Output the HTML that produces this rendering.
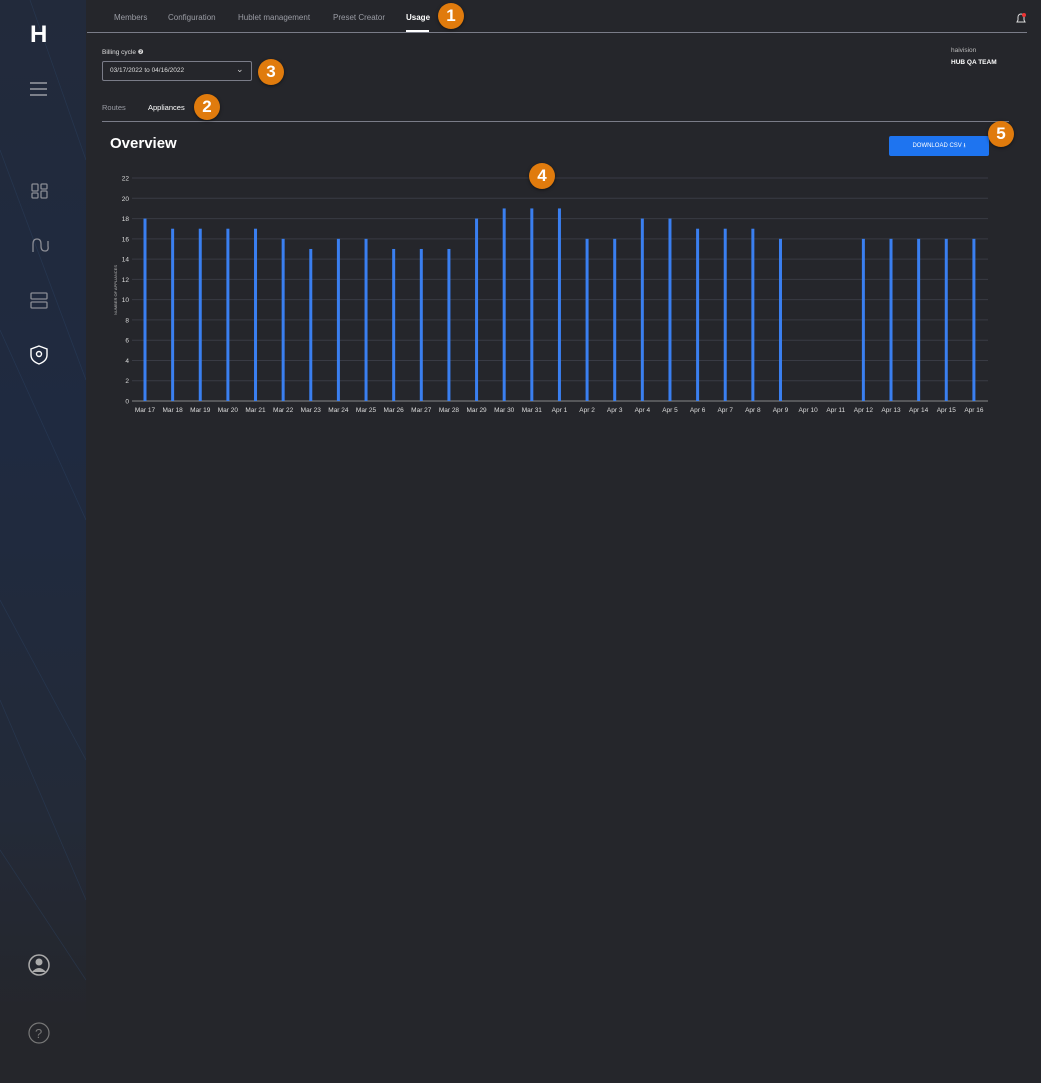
<!DOCTYPE html>
<html><head><meta charset="utf-8"><style>
*{margin:0;padding:0;box-sizing:border-box}
body{width:1041px;height:1083px;background:#25262b;font-family:"Liberation Sans",sans-serif;position:relative;overflow:hidden;color:#fff}
.side{position:absolute;left:0;top:0;width:86px;height:1083px;background:linear-gradient(180deg,#222a3b 0%,#1f2a40 40%,#232a38 75%,#25262b 95%)}
.t{position:absolute;white-space:nowrap}
.badge{position:absolute;z-index:5;width:26px;height:26px;border-radius:50%;background:#e07b0d;color:#fff;font-weight:bold;font-size:17px;text-align:center;line-height:26px;box-shadow:0 1px 3px rgba(0,0,0,.5)}
.nav{font-size:8px;color:#9a9ca4;top:13px}
</style></head><body>
<div class="side">
<svg width="86" height="1083" style="position:absolute;left:0;top:0" fill="none">
<g stroke="#2f4a6e" stroke-width="0.7" opacity="0.4">
<path d="M30 0 L86 160"/><path d="M0 150 L86 380"/><path d="M0 330 L86 520"/><path d="M0 600 L86 760"/><path d="M0 700 L86 900"/><path d="M0 850 L86 980"/>
</g>
<text x="30" y="42" fill="#fff" font-size="24" font-weight="bold" font-family="Liberation Sans">H</text>
<g stroke="#9a9ca4" stroke-width="1.6"><path d="M30 83h17M30 89h17M30 95h17"/></g>
<g stroke="#8a8c94" stroke-width="1.3">
<rect x="32" y="184" width="6" height="7" rx="1"/><rect x="41" y="184" width="6" height="5" rx="1"/><rect x="32" y="193" width="6" height="5" rx="1"/><rect x="41" y="191" width="6" height="7" rx="1"/>
<path d="M33 252 v-8 q0-5 4-5 t4 5 v2 q0 5 4 5 t3-5 v-5"/>
<rect x="31" y="293" width="16" height="6" rx="1"/><rect x="31" y="302" width="16" height="6" rx="1"/>
</g>
<g stroke="#fff" stroke-width="1.4"><path d="M39 346 l8 3 v6 q0 6 -8 9 q-8 -3 -8 -9 v-6z"/><circle cx="39" cy="354" r="2.5"/></g>
<circle cx="39" cy="965" r="10" stroke="#aaa" stroke-width="1.5"/><circle cx="39" cy="962" r="3.5" fill="#aaa"/><path d="M32 972 q7-8 14 0" fill="#aaa"/>
<circle cx="39" cy="1033" r="10" stroke="#777" stroke-width="1.2"/><text x="35" y="1038" fill="#777" font-size="13" font-family="Liberation Sans">?</text>
</svg>
</div>
<div class="t nav" style="left:114px">Members</div>
<div class="t nav" style="left:168px">Configuration</div>
<div class="t nav" style="left:238px">Hublet management</div>
<div class="t nav" style="left:333px">Preset Creator</div>
<div class="t nav" style="left:406px;color:#fff;font-weight:bold">Usage</div>
<div style="position:absolute;left:406px;top:30px;width:23px;height:2px;background:#fff"></div>
<div style="position:absolute;left:87px;top:32px;width:940px;height:1px;background:#7a7c88"></div>
<div class="badge" style="left:438px;top:3px">1</div>
<svg style="position:absolute;left:1014px;top:12px" width="14" height="14"><path d="M3 10 h8 l-1-2 v-3 a3 3 0 0 0 -6 0 v3z" stroke="#ddd" fill="none"/><circle cx="10" cy="3" r="2" fill="#e33"/></svg>
<div class="t" style="left:102px;top:48px;font-size:6.5px;color:#ddd">Billing cycle ❷</div>
<div style="position:absolute;left:102px;top:61px;width:150px;height:20px;border:1px solid #7a7c88;border-radius:2px"></div>
<div class="t" style="left:110px;top:67px;font-size:6.5px;color:#ddd">03/17/2022 to 04/16/2022</div>
<div class="t" style="left:236px;top:64px;font-size:9px;color:#ccc">⌄</div>
<div class="badge" style="left:258px;top:59px">3</div>
<div class="t" style="left:951px;top:47px;font-size:6.5px;color:#bbb">haivision</div>
<div class="t" style="left:951px;top:59px;font-size:6.5px;color:#fff;font-weight:bold">HUB QA TEAM</div>
<div class="t" style="left:102px;top:103px;font-size:7.5px;color:#9a9ca4">Routes</div>
<div class="t" style="left:148px;top:103px;font-size:7.5px;color:#fff">Appliances</div>
<div class="badge" style="left:194px;top:94px">2</div>
<div style="position:absolute;left:102px;top:121px;width:907px;height:1px;background:#7a7c88"></div>
<div class="t" style="left:110px;top:135px;font-size:15px;font-weight:bold;color:#fff">Overview</div>
<div style="position:absolute;left:889px;top:136px;width:100px;height:20px;background:#1e74f0;border-radius:2px;font-size:6px;color:#fff;text-align:center;line-height:20px">DOWNLOAD CSV ⭳</div>
<div class="badge" style="left:988px;top:121px">5</div>
<svg style="position:absolute;left:0;top:0" width="1041" height="420" font-family="Liberation Sans" font-size="6.5" fill="#ddd">
<g id="g"></g>
<text transform="translate(117,290) rotate(-90)" text-anchor="middle" font-size="4" fill="#bbb">NUMBER OF APPLIANCES</text>
</svg>
<div class="badge" style="left:529px;top:163px">4</div>
<script>
var g=document.getElementById('g'),s='';
for(var i=0;i<=11;i++){var y=401-i*20.27;s+='<line x1="132" x2="988" y1="'+y+'" y2="'+y+'" stroke="'+(i==0?'#888':'#393b44')+'" stroke-width="1"/><text x="129" y="'+(y+2.5)+'" text-anchor="end">'+(i*2)+'</text>';}
var v=[18,17,17,17,17,16,15,16,16,15,15,15,18,19,19,19,16,16,18,18,17,17,17,16,0,0,16,16,16,16,16];
for(var i=0;i<31;i++){var x=145+i*27.63;var lab=i<15?'Mar '+(17+i):'Apr '+(i-14);
if(v[i])s+='<rect x="'+(x-1.5)+'" y="'+(401-v[i]*10.135)+'" width="3" height="'+(v[i]*10.135)+'" fill="#3a7ff0"/>';
s+='<text x="'+x+'" y="412" text-anchor="middle">'+lab+'</text>';}
g.innerHTML=s;
</script>
</body></html>
